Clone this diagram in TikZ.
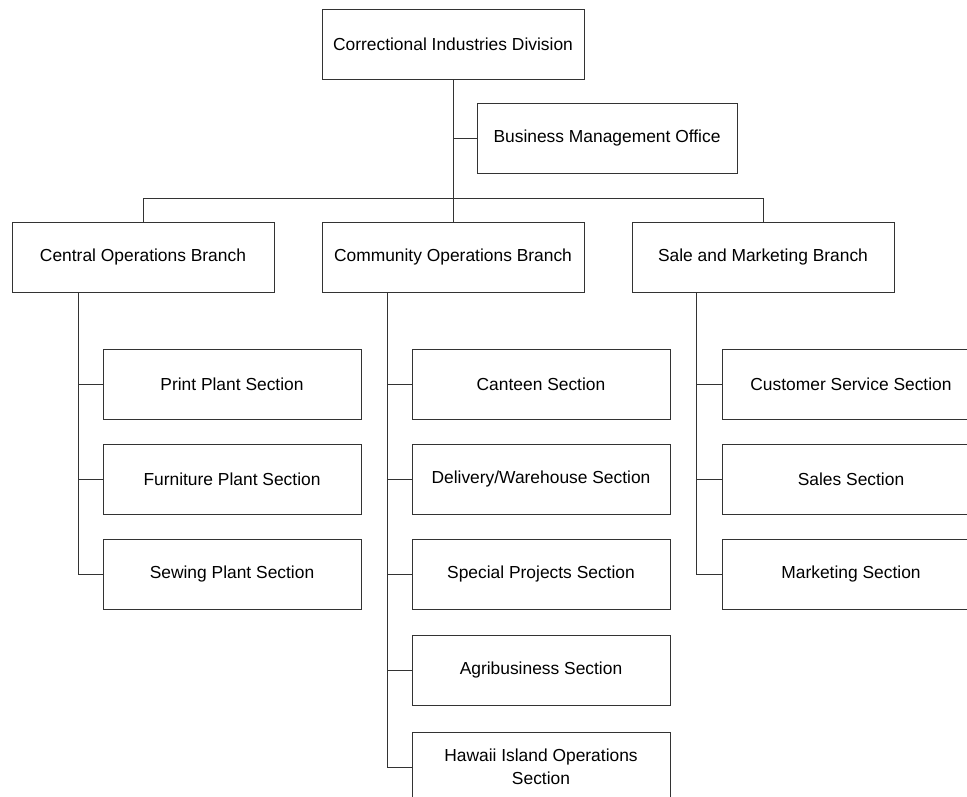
\documentclass[tikz,border=0pt]{standalone}
\usepackage{fontspec}
\setmainfont{Liberation Sans}
\usepackage{tikz}
\usetikzlibrary{positioning}

\begin{document}
\begin{tikzpicture}[
  orgbox/.style={draw=black!80, line width=0.8pt, minimum width=262pt,
    minimum height=70pt, inner sep=0pt, outer sep=0pt, align=center,
    font=\fontsize{17.4}{23}\selectfont},
  secbox/.style={orgbox, minimum width=258pt},
  link/.style={draw=black!80, line width=0.8pt}
]
\useasboundingbox (0,0) rectangle (967pt,-796pt);

\node[orgbox] (cid) at (453pt,-44pt) {Correctional Industries Division};
\node[secbox, anchor=north west, below right=24pt and 24pt of cid.south, minimum width=260pt] (bmo) {Business Management Office};

\node[orgbox, below=143pt of cid] (cob) {Community Operations Branch};
\node[orgbox, left=48pt of cob]  (ceb) {Central Operations Branch};
\node[orgbox, right=48pt of cob] (smb) {Sale and Marketing Branch};

\node[secbox, below=57pt of ceb, xshift=89pt] (pps) {Print Plant Section};
\node[secbox, below=25pt of pps] (fps) {Furniture Plant Section};
\node[secbox, below=25pt of fps] (sps) {Sewing Plant Section};

\node[secbox, below=57pt of cob, xshift=88pt] (can) {Canteen Section};
\node[secbox, below=25pt of can] (dws) {Delivery/Warehouse Section};
\node[secbox, below=25pt of dws] (spj) {Special Projects Section};
\node[secbox, below=26pt of spj] (agr) {Agribusiness Section};
\node[secbox, below=27pt of agr] (hio) {Hawaii Island Operations\\Section};

\node[secbox, below=57pt of smb, xshift=88pt] (css) {Customer Service Section};
\node[secbox, below=25pt of css] (sal) {Sales Section};
\node[secbox, below=25pt of sal] (mkt) {Marketing Section};

\coordinate (bus) at ([yshift=24pt]cob.north);
\coordinate (cev) at ([xshift=66pt]ceb.south west);
\coordinate (cov) at ([xshift=65pt]cob.south west);
\coordinate (smv) at ([xshift=64pt]smb.south west);

\draw[link] (cid.south) -- (cob.north);
\draw[link] (cid.south) |- (bmo.west);
\draw[link] (ceb.north) -- (ceb.north |- bus) -- (smb.north |- bus) -- (smb.north);

\draw[link] (cev) |- (sps.west);
\draw[link] (cev |- pps.west) -- (pps.west);
\draw[link] (cev |- fps.west) -- (fps.west);

\draw[link] (cov) |- (hio.west);
\foreach \s in {can,dws,spj,agr}
  \draw[link] (cov |- \s.west) -- (\s.west);

\draw[link] (smv) |- (mkt.west);
\draw[link] (smv |- css.west) -- (css.west);
\draw[link] (smv |- sal.west) -- (sal.west);
\end{tikzpicture}
\end{document}
